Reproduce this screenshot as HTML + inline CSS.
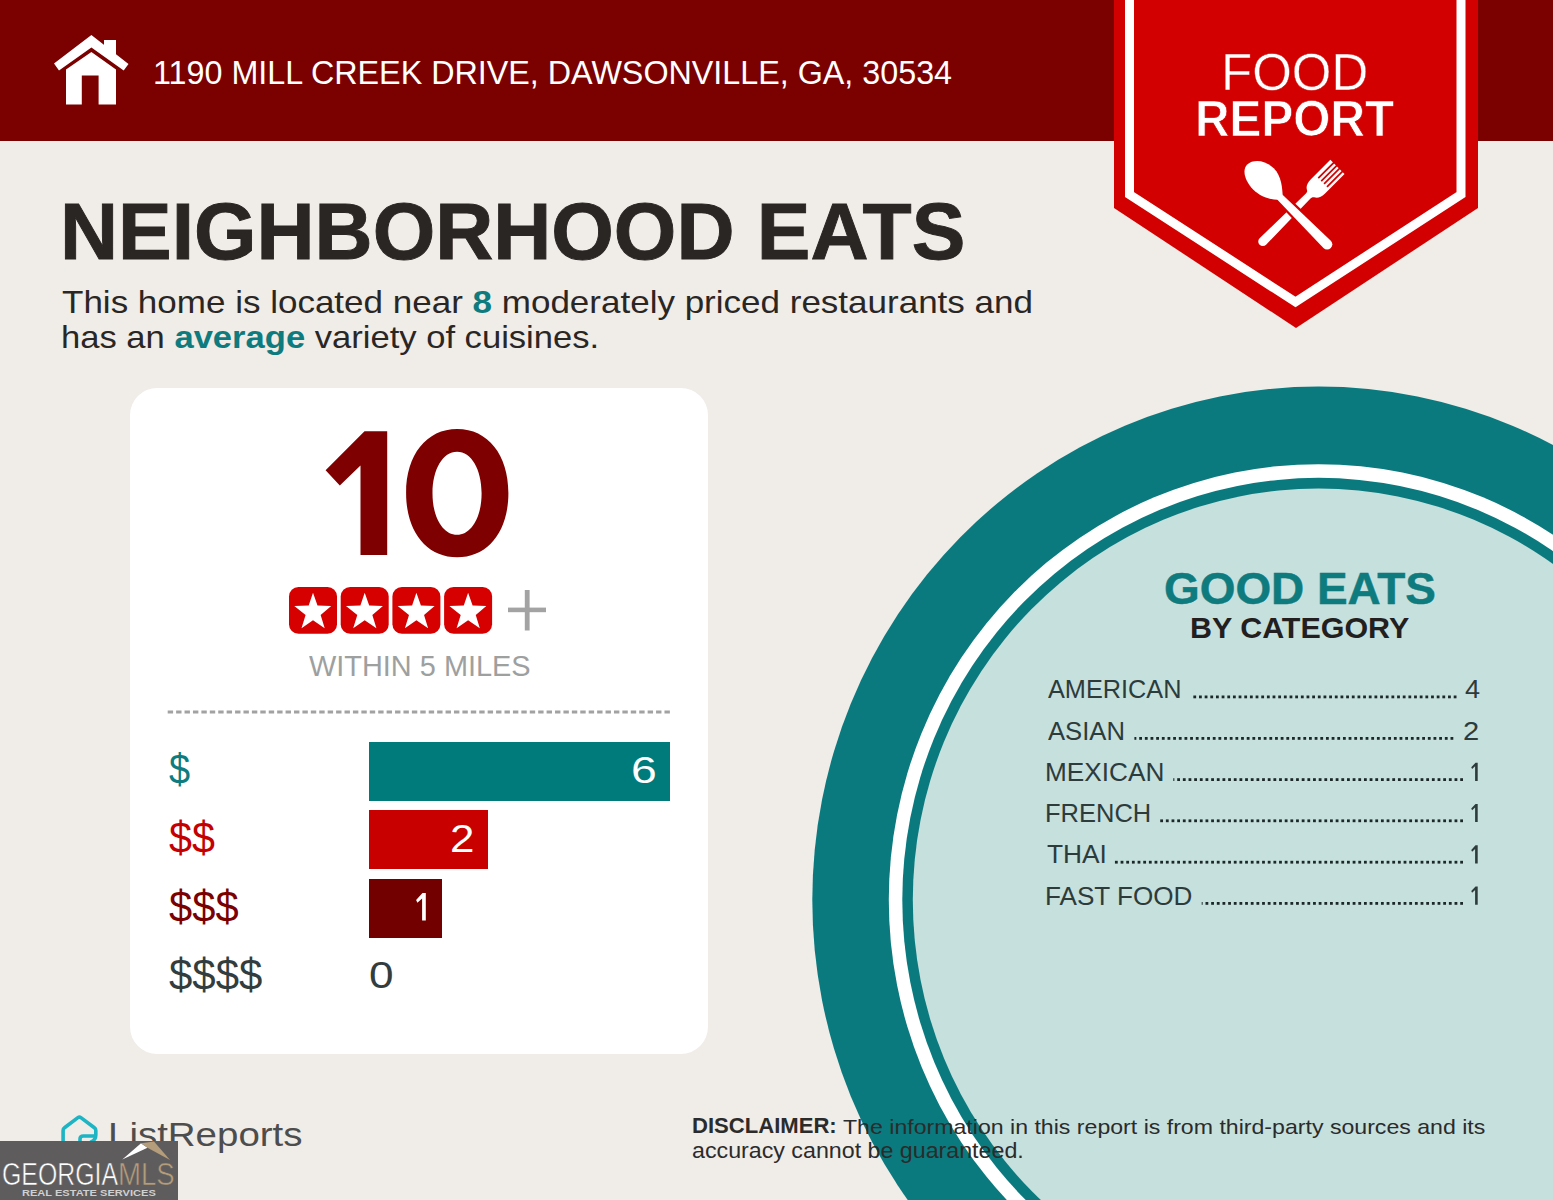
<!DOCTYPE html>
<html>
<head>
<meta charset="utf-8">
<style>
*{margin:0;padding:0;box-sizing:border-box;}
html,body{width:1553px;height:1200px;overflow:hidden;}
body{position:relative;background:#f0ece8;font-family:"Liberation Sans",sans-serif;}
.a{position:absolute;white-space:nowrap;line-height:1;}
.t{display:inline-block;transform-origin:0 0;}
.t b{color:#0e7b7e;}
.box{position:absolute;}
.dots{position:absolute;height:2.6px;background-image:linear-gradient(to right,#1f2b2b 0,#1f2b2b 2.6px,transparent 2.6px);background-size:5.67px 2.6px;background-repeat:repeat-x;}
</style>
</head>
<body>
<!-- header -->
<div class="box" style="left:0;top:0;width:1553px;height:141px;background:#7b0000;"></div>

<!-- house icon -->
<svg class="box" style="left:0;top:0" width="200" height="130" viewBox="0 0 200 130">
  <path fill="#fff" d="M104 40 H116 V58 L104 49 Z"/>
  <path fill="#fff" d="M91.4 35 L128.5 64 L123.7 70.6 L91.4 47.4 L59 70.6 L54 63.5 Z"/>
  <path fill="#fff" d="M91.4 52 L116 69.5 V104.4 H98.6 V75.4 H81.8 V104.4 H66 V69.5 Z"/>
</svg>
<div class="a" style="left:152.9px;top:55.6px;font-size:33.0px;color:#fff;"><span class="t" style="transform:scaleX(0.9783)">1190 MILL CREEK DRIVE, DAWSONVILLE, GA, 30534</span></div>

<!-- ribbon -->
<svg class="box" style="left:0;top:0" width="1553" height="340" viewBox="0 0 1553 340">
  <polygon fill="#d20000" points="1114,0 1478,0 1478,208 1296,328 1114,208"/>
  <polyline fill="none" stroke="#fff" stroke-width="9" stroke-linejoin="miter" points="1129.5,-5 1129.5,194.5 1295.5,302 1461,194.5 1461,-5"/>
  <g transform="translate(1235,150)">
    <!-- fork -->
    <g transform="translate(59.65,59.65) rotate(45)" fill="#fff">
      <path d="M-10,-60.5 L10,-60.5 L10,-33 C10,-27 8,-24 5,-22.5 C4,-22 3.4,-21 3.4,-19 L4.6,45 A4.6,4.6 0 0 1 -4.6,45 L-3.4,-19 C-3.4,-21 -4,-22 -5,-22.5 C-8,-24 -10,-27 -10,-33 Z"/>
      <rect x="-6.4" y="-62" width="1.7" height="23" fill="#d20000"/>
      <rect x="-2.3" y="-62" width="1.7" height="23" fill="#d20000"/>
      <rect x="1.8" y="-62" width="1.7" height="23" fill="#d20000"/>
      <rect x="5.9" y="-62" width="1.7" height="23" fill="#d20000"/>
    </g>
    <!-- spoon -->
    <g transform="translate(58.55,60.75) rotate(-45)" fill="#fff">
      <path d="M-3.5,-22 L-5.2,47.5 A5.2,5.2 0 0 0 5.2,47.5 L3.5,-22 Z" stroke="#d20000" stroke-width="4.5" stroke-linejoin="round"/>
      <path d="M-3.5,-22 L-5.2,47.5 A5.2,5.2 0 0 0 5.2,47.5 L3.5,-22 Z"/>
      <path d="M3.5,-19 C8,-24 16,-33 16,-44 C16,-56 8,-65 0,-65.5 C-8,-65.5 -13.5,-55 -13.5,-44 C-13.5,-32 -8,-24 -3.5,-19 Z"/>
    </g>
  </g>
</svg>
<div class="a" style="left:1221.1px;top:46.5px;font-size:51.57px;color:#fff;-webkit-text-stroke:0.4px #d20000;"><span class="t" style="transform:scaleX(0.9885)">FOOD</span></div>
<div class="a" style="left:1195.2px;top:93.9px;font-size:50.71px;color:#fff;font-weight:bold;-webkit-text-stroke:0.7px #d20000;"><span class="t" style="transform:scaleX(0.9425)">REPORT</span></div>

<div class="a" style="left:59.9px;top:192.1px;font-size:79.57px;color:#2a2624;font-weight:bold;-webkit-text-stroke:0.9px #2a2624;"><span class="t" style="transform:scaleX(1.0105)">NEIGHBORHOOD EATS</span></div>
<div class="a" style="left:62.2px;top:287.1px;font-size:31.23px;color:#2a2624;"><span class="t" style="transform:scaleX(1.1213)">This home is located near <b>8</b> moderately priced restaurants and</span></div>
<div class="a" style="left:60.5px;top:321.8px;font-size:31.23px;color:#2a2624;"><span class="t" style="transform:scaleX(1.1075)">has an <b>average</b> variety of cuisines.</span></div>

<!-- card -->
<div class="box" style="left:129.7px;top:387.6px;width:578.3px;height:666.4px;background:#fff;border-radius:27px;"></div>
<svg class="box" style="left:300px;top:420px" width="230" height="150" viewBox="300 420 230 150">
  <path fill="#7f0000" d="M364.5,431.2 L387.2,431.2 L387.2,554.9 L360.5,554.9 L360.5,465.5 L339.8,485.6 L325.6,470.2 Z"/>
  <path fill="#7f0000" fill-rule="evenodd" d="M457.2,429.0 C487.9,429.0 508.4,454.7 508.4,493.1 C508.4,531.6 487.9,557.3 457.2,557.3 C426.6,557.3 406.1,531.6 406.1,493.1 C406.1,454.7 426.6,429.0 457.2,429.0 Z M457.1,451.7 C442.8,451.7 432.5,469.2 432.5,493.2 C432.5,517.3 442.8,534.8 457.1,534.8 C471.3,534.8 481.6,517.3 481.6,493.2 C481.6,469.2 471.3,451.7 457.1,451.7 Z"/>
</svg>
<svg class="box" style="left:280px;top:580px" width="280" height="60" viewBox="280 580 280 60">
  <defs>
    <g id="sb">
      <rect x="0" y="0" width="48" height="46.8" rx="9.5" fill="#d60000"/>
      <polygon fill="#fff" points="24,5.8 28.5,18.6 42.2,19.05 31.65,28 35.7,41.3 24,33.2 12.5,41.3 16.6,28 5.3,19.05 19.7,18.6"/>
    </g>
  </defs>
  <use href="#sb" x="289" y="587"/>
  <use href="#sb" x="340.7" y="587"/>
  <use href="#sb" x="392.4" y="587"/>
  <use href="#sb" x="444.1" y="587"/>
  <rect x="508" y="607.6" width="38" height="4.6" fill="#a3a3a3"/>
  <rect x="524.8" y="590" width="4.8" height="40.5" fill="#a3a3a3"/>
</svg>
<div class="a" style="left:308.5px;top:650.8px;font-size:29.43px;color:#9ea0a0;"><span class="t" style="transform:scaleX(0.9824)">WITHIN 5 MILES</span></div>
<svg class="box" style="left:160px;top:700px" width="520" height="25" viewBox="160 700 520 25"><line x1="167.7" y1="712" x2="670.5" y2="712" stroke="#a2a2a2" stroke-width="2.8" stroke-dasharray="5.4 3.02"/></svg>

<!-- bars -->
<div class="box" style="left:369.1px;top:741.7px;width:300.7px;height:59px;background:#007b7c;"></div>
<div class="box" style="left:369.1px;top:810.4px;width:119.2px;height:58.9px;background:#c80000;"></div>
<div class="box" style="left:369.1px;top:879.3px;width:73.2px;height:58.5px;background:#720000;"></div>
<div class="a" style="left:631.1px;top:751.7px;font-size:37.14px;color:#fff;"><span class="t" style="transform:scaleX(1.2467)">6</span></div>
<div class="a" style="left:449.8px;top:820.0px;font-size:38.57px;color:#fff;"><span class="t" style="transform:scaleX(1.1385)">2</span></div>
<svg class="box" style="left:400px;top:880px" width="40" height="50" viewBox="400 880 40 50"><path fill="#fff" d="M422.50,893.10 L425.80,893.10 L425.80,920.40 L422.10,920.40 L422.10,898.51 L417.39,902.63 L416.11,900.01 Z"/></svg>
<div class="a" style="left:369.0px;top:956.9px;font-size:37.04px;color:#333d3d;"><span class="t" style="transform:scaleX(1.1923)">0</span></div>
<div class="a" style="left:168.7px;top:748.2px;font-size:42.84px;color:#0e7b7e;"><span class="t" style="transform:scaleX(0.8853)">$</span></div>
<div class="a" style="left:168.7px;top:817.0px;font-size:43.58px;color:#c40000;"><span class="t" style="transform:scaleX(0.9476)">$$</span></div>
<div class="a" style="left:168.7px;top:885.4px;font-size:43.83px;color:#7b0000;"><span class="t" style="transform:scaleX(0.9516)">$$$</span></div>
<div class="a" style="left:168.7px;top:954.4px;font-size:43.58px;color:#333d3d;"><span class="t" style="transform:scaleX(0.9627)">$$$$</span></div>

<!-- circle -->
<svg class="box" style="left:0;top:0" width="1553" height="1200" viewBox="0 0 1553 1200">
  <g transform="translate(1318.6,900) scale(1,1.014)">
  <circle cx="0" cy="0" r="506.3" fill="#0a7a7e"/>
  <circle cx="0" cy="0" r="429.8" fill="#fff"/>
  <circle cx="0" cy="0" r="416.3" fill="#0a7a7e"/>
  <circle cx="0" cy="0" r="405.8" fill="#c6e0de"/>
  </g>
</svg>
<div class="a" style="left:1164.4px;top:565.7px;font-size:45.29px;color:#0e7b7e;font-weight:bold;-webkit-text-stroke:0.5px #0e7b7e;"><span class="t" style="transform:scaleX(1.0135)">GOOD EATS</span></div>
<div class="a" style="left:1190.4px;top:612.8px;font-size:29.43px;color:#231f20;font-weight:bold;"><span class="t" style="transform:scaleX(1.0342)">BY CATEGORY</span></div>
<div class="a" style="left:1047.6px;top:676.1px;font-size:26.14px;color:#2d3b3b;"><span class="t" style="transform:scaleX(0.9681)">AMERICAN</span></div>
<div class="a" style="left:1047.6px;top:717.6px;font-size:26.14px;color:#2d3b3b;"><span class="t" style="transform:scaleX(0.9812)">ASIAN</span></div>
<div class="a" style="left:1045.1px;top:759.1px;font-size:26.14px;color:#2d3b3b;"><span class="t" style="transform:scaleX(1.0032)">MEXICAN</span></div>
<div class="a" style="left:1045.2px;top:800.2px;font-size:26.14px;color:#2d3b3b;"><span class="t" style="transform:scaleX(0.9758)">FRENCH</span></div>
<div class="a" style="left:1046.7px;top:841.4px;font-size:26.52px;color:#2d3b3b;"><span class="t" style="transform:scaleX(0.9921)">THAI</span></div>
<div class="a" style="left:1045.1px;top:882.8px;font-size:26.14px;color:#2d3b3b;"><span class="t" style="transform:scaleX(0.9986)">FAST FOOD</span></div>
<div class="a" style="left:1464.5px;top:675.8px;font-size:26.52px;color:#2d3b3b;"><span class="t" style="transform:scaleX(1.0203)">4</span></div>
<div class="a" style="left:1463.1px;top:717.6px;font-size:26.14px;color:#2d3b3b;"><span class="t" style="transform:scaleX(1.1143)">2</span></div>
<svg class="box" style="left:1100px;top:680px" width="400" height="240" viewBox="1100 680 400 240"><g fill="#1c2828"><rect x="1453.70" y="695.50" width="2.80" height="2.8"/><rect x="1448.04" y="695.50" width="2.80" height="2.8"/><rect x="1442.38" y="695.50" width="2.80" height="2.8"/><rect x="1436.72" y="695.50" width="2.80" height="2.8"/><rect x="1431.06" y="695.50" width="2.80" height="2.8"/><rect x="1425.40" y="695.50" width="2.80" height="2.8"/><rect x="1419.74" y="695.50" width="2.80" height="2.8"/><rect x="1414.08" y="695.50" width="2.80" height="2.8"/><rect x="1408.42" y="695.50" width="2.80" height="2.8"/><rect x="1402.76" y="695.50" width="2.80" height="2.8"/><rect x="1397.10" y="695.50" width="2.80" height="2.8"/><rect x="1391.44" y="695.50" width="2.80" height="2.8"/><rect x="1385.78" y="695.50" width="2.80" height="2.8"/><rect x="1380.12" y="695.50" width="2.80" height="2.8"/><rect x="1374.46" y="695.50" width="2.80" height="2.8"/><rect x="1368.80" y="695.50" width="2.80" height="2.8"/><rect x="1363.14" y="695.50" width="2.80" height="2.8"/><rect x="1357.48" y="695.50" width="2.80" height="2.8"/><rect x="1351.82" y="695.50" width="2.80" height="2.8"/><rect x="1346.16" y="695.50" width="2.80" height="2.8"/><rect x="1340.50" y="695.50" width="2.80" height="2.8"/><rect x="1334.84" y="695.50" width="2.80" height="2.8"/><rect x="1329.18" y="695.50" width="2.80" height="2.8"/><rect x="1323.52" y="695.50" width="2.80" height="2.8"/><rect x="1317.86" y="695.50" width="2.80" height="2.8"/><rect x="1312.20" y="695.50" width="2.80" height="2.8"/><rect x="1306.54" y="695.50" width="2.80" height="2.8"/><rect x="1300.88" y="695.50" width="2.80" height="2.8"/><rect x="1295.22" y="695.50" width="2.80" height="2.8"/><rect x="1289.56" y="695.50" width="2.80" height="2.8"/><rect x="1283.90" y="695.50" width="2.80" height="2.8"/><rect x="1278.24" y="695.50" width="2.80" height="2.8"/><rect x="1272.58" y="695.50" width="2.80" height="2.8"/><rect x="1266.92" y="695.50" width="2.80" height="2.8"/><rect x="1261.26" y="695.50" width="2.80" height="2.8"/><rect x="1255.60" y="695.50" width="2.80" height="2.8"/><rect x="1249.94" y="695.50" width="2.80" height="2.8"/><rect x="1244.28" y="695.50" width="2.80" height="2.8"/><rect x="1238.62" y="695.50" width="2.80" height="2.8"/><rect x="1232.96" y="695.50" width="2.80" height="2.8"/><rect x="1227.30" y="695.50" width="2.80" height="2.8"/><rect x="1221.64" y="695.50" width="2.80" height="2.8"/><rect x="1215.98" y="695.50" width="2.80" height="2.8"/><rect x="1210.32" y="695.50" width="2.80" height="2.8"/><rect x="1204.66" y="695.50" width="2.80" height="2.8"/><rect x="1199.00" y="695.50" width="2.80" height="2.8"/><rect x="1193.34" y="695.50" width="2.80" height="2.8"/><rect x="1450.50" y="737.00" width="2.80" height="2.8"/><rect x="1444.84" y="737.00" width="2.80" height="2.8"/><rect x="1439.18" y="737.00" width="2.80" height="2.8"/><rect x="1433.52" y="737.00" width="2.80" height="2.8"/><rect x="1427.86" y="737.00" width="2.80" height="2.8"/><rect x="1422.20" y="737.00" width="2.80" height="2.8"/><rect x="1416.54" y="737.00" width="2.80" height="2.8"/><rect x="1410.88" y="737.00" width="2.80" height="2.8"/><rect x="1405.22" y="737.00" width="2.80" height="2.8"/><rect x="1399.56" y="737.00" width="2.80" height="2.8"/><rect x="1393.90" y="737.00" width="2.80" height="2.8"/><rect x="1388.24" y="737.00" width="2.80" height="2.8"/><rect x="1382.58" y="737.00" width="2.80" height="2.8"/><rect x="1376.92" y="737.00" width="2.80" height="2.8"/><rect x="1371.26" y="737.00" width="2.80" height="2.8"/><rect x="1365.60" y="737.00" width="2.80" height="2.8"/><rect x="1359.94" y="737.00" width="2.80" height="2.8"/><rect x="1354.28" y="737.00" width="2.80" height="2.8"/><rect x="1348.62" y="737.00" width="2.80" height="2.8"/><rect x="1342.96" y="737.00" width="2.80" height="2.8"/><rect x="1337.30" y="737.00" width="2.80" height="2.8"/><rect x="1331.64" y="737.00" width="2.80" height="2.8"/><rect x="1325.98" y="737.00" width="2.80" height="2.8"/><rect x="1320.32" y="737.00" width="2.80" height="2.8"/><rect x="1314.66" y="737.00" width="2.80" height="2.8"/><rect x="1309.00" y="737.00" width="2.80" height="2.8"/><rect x="1303.34" y="737.00" width="2.80" height="2.8"/><rect x="1297.68" y="737.00" width="2.80" height="2.8"/><rect x="1292.02" y="737.00" width="2.80" height="2.8"/><rect x="1286.36" y="737.00" width="2.80" height="2.8"/><rect x="1280.70" y="737.00" width="2.80" height="2.8"/><rect x="1275.04" y="737.00" width="2.80" height="2.8"/><rect x="1269.38" y="737.00" width="2.80" height="2.8"/><rect x="1263.72" y="737.00" width="2.80" height="2.8"/><rect x="1258.06" y="737.00" width="2.80" height="2.8"/><rect x="1252.40" y="737.00" width="2.80" height="2.8"/><rect x="1246.74" y="737.00" width="2.80" height="2.8"/><rect x="1241.08" y="737.00" width="2.80" height="2.8"/><rect x="1235.42" y="737.00" width="2.80" height="2.8"/><rect x="1229.76" y="737.00" width="2.80" height="2.8"/><rect x="1224.10" y="737.00" width="2.80" height="2.8"/><rect x="1218.44" y="737.00" width="2.80" height="2.8"/><rect x="1212.78" y="737.00" width="2.80" height="2.8"/><rect x="1207.12" y="737.00" width="2.80" height="2.8"/><rect x="1201.46" y="737.00" width="2.80" height="2.8"/><rect x="1195.80" y="737.00" width="2.80" height="2.8"/><rect x="1190.14" y="737.00" width="2.80" height="2.8"/><rect x="1184.48" y="737.00" width="2.80" height="2.8"/><rect x="1178.82" y="737.00" width="2.80" height="2.8"/><rect x="1173.16" y="737.00" width="2.80" height="2.8"/><rect x="1167.50" y="737.00" width="2.80" height="2.8"/><rect x="1161.84" y="737.00" width="2.80" height="2.8"/><rect x="1156.18" y="737.00" width="2.80" height="2.8"/><rect x="1150.52" y="737.00" width="2.80" height="2.8"/><rect x="1144.86" y="737.00" width="2.80" height="2.8"/><rect x="1139.20" y="737.00" width="2.80" height="2.8"/><rect x="1134.40" y="737.00" width="1.94" height="2.8"/><rect x="1460.20" y="778.20" width="2.80" height="2.8"/><rect x="1454.54" y="778.20" width="2.80" height="2.8"/><rect x="1448.88" y="778.20" width="2.80" height="2.8"/><rect x="1443.22" y="778.20" width="2.80" height="2.8"/><rect x="1437.56" y="778.20" width="2.80" height="2.8"/><rect x="1431.90" y="778.20" width="2.80" height="2.8"/><rect x="1426.24" y="778.20" width="2.80" height="2.8"/><rect x="1420.58" y="778.20" width="2.80" height="2.8"/><rect x="1414.92" y="778.20" width="2.80" height="2.8"/><rect x="1409.26" y="778.20" width="2.80" height="2.8"/><rect x="1403.60" y="778.20" width="2.80" height="2.8"/><rect x="1397.94" y="778.20" width="2.80" height="2.8"/><rect x="1392.28" y="778.20" width="2.80" height="2.8"/><rect x="1386.62" y="778.20" width="2.80" height="2.8"/><rect x="1380.96" y="778.20" width="2.80" height="2.8"/><rect x="1375.30" y="778.20" width="2.80" height="2.8"/><rect x="1369.64" y="778.20" width="2.80" height="2.8"/><rect x="1363.98" y="778.20" width="2.80" height="2.8"/><rect x="1358.32" y="778.20" width="2.80" height="2.8"/><rect x="1352.66" y="778.20" width="2.80" height="2.8"/><rect x="1347.00" y="778.20" width="2.80" height="2.8"/><rect x="1341.34" y="778.20" width="2.80" height="2.8"/><rect x="1335.68" y="778.20" width="2.80" height="2.8"/><rect x="1330.02" y="778.20" width="2.80" height="2.8"/><rect x="1324.36" y="778.20" width="2.80" height="2.8"/><rect x="1318.70" y="778.20" width="2.80" height="2.8"/><rect x="1313.04" y="778.20" width="2.80" height="2.8"/><rect x="1307.38" y="778.20" width="2.80" height="2.8"/><rect x="1301.72" y="778.20" width="2.80" height="2.8"/><rect x="1296.06" y="778.20" width="2.80" height="2.8"/><rect x="1290.40" y="778.20" width="2.80" height="2.8"/><rect x="1284.74" y="778.20" width="2.80" height="2.8"/><rect x="1279.08" y="778.20" width="2.80" height="2.8"/><rect x="1273.42" y="778.20" width="2.80" height="2.8"/><rect x="1267.76" y="778.20" width="2.80" height="2.8"/><rect x="1262.10" y="778.20" width="2.80" height="2.8"/><rect x="1256.44" y="778.20" width="2.80" height="2.8"/><rect x="1250.78" y="778.20" width="2.80" height="2.8"/><rect x="1245.12" y="778.20" width="2.80" height="2.8"/><rect x="1239.46" y="778.20" width="2.80" height="2.8"/><rect x="1233.80" y="778.20" width="2.80" height="2.8"/><rect x="1228.14" y="778.20" width="2.80" height="2.8"/><rect x="1222.48" y="778.20" width="2.80" height="2.8"/><rect x="1216.82" y="778.20" width="2.80" height="2.8"/><rect x="1211.16" y="778.20" width="2.80" height="2.8"/><rect x="1205.50" y="778.20" width="2.80" height="2.8"/><rect x="1199.84" y="778.20" width="2.80" height="2.8"/><rect x="1194.18" y="778.20" width="2.80" height="2.8"/><rect x="1188.52" y="778.20" width="2.80" height="2.8"/><rect x="1182.86" y="778.20" width="2.80" height="2.8"/><rect x="1177.20" y="778.20" width="2.80" height="2.8"/><rect x="1173.30" y="778.20" width="1.04" height="2.8"/><rect x="1460.20" y="819.40" width="2.80" height="2.8"/><rect x="1454.54" y="819.40" width="2.80" height="2.8"/><rect x="1448.88" y="819.40" width="2.80" height="2.8"/><rect x="1443.22" y="819.40" width="2.80" height="2.8"/><rect x="1437.56" y="819.40" width="2.80" height="2.8"/><rect x="1431.90" y="819.40" width="2.80" height="2.8"/><rect x="1426.24" y="819.40" width="2.80" height="2.8"/><rect x="1420.58" y="819.40" width="2.80" height="2.8"/><rect x="1414.92" y="819.40" width="2.80" height="2.8"/><rect x="1409.26" y="819.40" width="2.80" height="2.8"/><rect x="1403.60" y="819.40" width="2.80" height="2.8"/><rect x="1397.94" y="819.40" width="2.80" height="2.8"/><rect x="1392.28" y="819.40" width="2.80" height="2.8"/><rect x="1386.62" y="819.40" width="2.80" height="2.8"/><rect x="1380.96" y="819.40" width="2.80" height="2.8"/><rect x="1375.30" y="819.40" width="2.80" height="2.8"/><rect x="1369.64" y="819.40" width="2.80" height="2.8"/><rect x="1363.98" y="819.40" width="2.80" height="2.8"/><rect x="1358.32" y="819.40" width="2.80" height="2.8"/><rect x="1352.66" y="819.40" width="2.80" height="2.8"/><rect x="1347.00" y="819.40" width="2.80" height="2.8"/><rect x="1341.34" y="819.40" width="2.80" height="2.8"/><rect x="1335.68" y="819.40" width="2.80" height="2.8"/><rect x="1330.02" y="819.40" width="2.80" height="2.8"/><rect x="1324.36" y="819.40" width="2.80" height="2.8"/><rect x="1318.70" y="819.40" width="2.80" height="2.8"/><rect x="1313.04" y="819.40" width="2.80" height="2.8"/><rect x="1307.38" y="819.40" width="2.80" height="2.8"/><rect x="1301.72" y="819.40" width="2.80" height="2.8"/><rect x="1296.06" y="819.40" width="2.80" height="2.8"/><rect x="1290.40" y="819.40" width="2.80" height="2.8"/><rect x="1284.74" y="819.40" width="2.80" height="2.8"/><rect x="1279.08" y="819.40" width="2.80" height="2.8"/><rect x="1273.42" y="819.40" width="2.80" height="2.8"/><rect x="1267.76" y="819.40" width="2.80" height="2.8"/><rect x="1262.10" y="819.40" width="2.80" height="2.8"/><rect x="1256.44" y="819.40" width="2.80" height="2.8"/><rect x="1250.78" y="819.40" width="2.80" height="2.8"/><rect x="1245.12" y="819.40" width="2.80" height="2.8"/><rect x="1239.46" y="819.40" width="2.80" height="2.8"/><rect x="1233.80" y="819.40" width="2.80" height="2.8"/><rect x="1228.14" y="819.40" width="2.80" height="2.8"/><rect x="1222.48" y="819.40" width="2.80" height="2.8"/><rect x="1216.82" y="819.40" width="2.80" height="2.8"/><rect x="1211.16" y="819.40" width="2.80" height="2.8"/><rect x="1205.50" y="819.40" width="2.80" height="2.8"/><rect x="1199.84" y="819.40" width="2.80" height="2.8"/><rect x="1194.18" y="819.40" width="2.80" height="2.8"/><rect x="1188.52" y="819.40" width="2.80" height="2.8"/><rect x="1182.86" y="819.40" width="2.80" height="2.8"/><rect x="1177.20" y="819.40" width="2.80" height="2.8"/><rect x="1171.54" y="819.40" width="2.80" height="2.8"/><rect x="1165.88" y="819.40" width="2.80" height="2.8"/><rect x="1160.22" y="819.40" width="2.80" height="2.8"/><rect x="1460.20" y="860.80" width="2.80" height="2.8"/><rect x="1454.54" y="860.80" width="2.80" height="2.8"/><rect x="1448.88" y="860.80" width="2.80" height="2.8"/><rect x="1443.22" y="860.80" width="2.80" height="2.8"/><rect x="1437.56" y="860.80" width="2.80" height="2.8"/><rect x="1431.90" y="860.80" width="2.80" height="2.8"/><rect x="1426.24" y="860.80" width="2.80" height="2.8"/><rect x="1420.58" y="860.80" width="2.80" height="2.8"/><rect x="1414.92" y="860.80" width="2.80" height="2.8"/><rect x="1409.26" y="860.80" width="2.80" height="2.8"/><rect x="1403.60" y="860.80" width="2.80" height="2.8"/><rect x="1397.94" y="860.80" width="2.80" height="2.8"/><rect x="1392.28" y="860.80" width="2.80" height="2.8"/><rect x="1386.62" y="860.80" width="2.80" height="2.8"/><rect x="1380.96" y="860.80" width="2.80" height="2.8"/><rect x="1375.30" y="860.80" width="2.80" height="2.8"/><rect x="1369.64" y="860.80" width="2.80" height="2.8"/><rect x="1363.98" y="860.80" width="2.80" height="2.8"/><rect x="1358.32" y="860.80" width="2.80" height="2.8"/><rect x="1352.66" y="860.80" width="2.80" height="2.8"/><rect x="1347.00" y="860.80" width="2.80" height="2.8"/><rect x="1341.34" y="860.80" width="2.80" height="2.8"/><rect x="1335.68" y="860.80" width="2.80" height="2.8"/><rect x="1330.02" y="860.80" width="2.80" height="2.8"/><rect x="1324.36" y="860.80" width="2.80" height="2.8"/><rect x="1318.70" y="860.80" width="2.80" height="2.8"/><rect x="1313.04" y="860.80" width="2.80" height="2.8"/><rect x="1307.38" y="860.80" width="2.80" height="2.8"/><rect x="1301.72" y="860.80" width="2.80" height="2.8"/><rect x="1296.06" y="860.80" width="2.80" height="2.8"/><rect x="1290.40" y="860.80" width="2.80" height="2.8"/><rect x="1284.74" y="860.80" width="2.80" height="2.8"/><rect x="1279.08" y="860.80" width="2.80" height="2.8"/><rect x="1273.42" y="860.80" width="2.80" height="2.8"/><rect x="1267.76" y="860.80" width="2.80" height="2.8"/><rect x="1262.10" y="860.80" width="2.80" height="2.8"/><rect x="1256.44" y="860.80" width="2.80" height="2.8"/><rect x="1250.78" y="860.80" width="2.80" height="2.8"/><rect x="1245.12" y="860.80" width="2.80" height="2.8"/><rect x="1239.46" y="860.80" width="2.80" height="2.8"/><rect x="1233.80" y="860.80" width="2.80" height="2.8"/><rect x="1228.14" y="860.80" width="2.80" height="2.8"/><rect x="1222.48" y="860.80" width="2.80" height="2.8"/><rect x="1216.82" y="860.80" width="2.80" height="2.8"/><rect x="1211.16" y="860.80" width="2.80" height="2.8"/><rect x="1205.50" y="860.80" width="2.80" height="2.8"/><rect x="1199.84" y="860.80" width="2.80" height="2.8"/><rect x="1194.18" y="860.80" width="2.80" height="2.8"/><rect x="1188.52" y="860.80" width="2.80" height="2.8"/><rect x="1182.86" y="860.80" width="2.80" height="2.8"/><rect x="1177.20" y="860.80" width="2.80" height="2.8"/><rect x="1171.54" y="860.80" width="2.80" height="2.8"/><rect x="1165.88" y="860.80" width="2.80" height="2.8"/><rect x="1160.22" y="860.80" width="2.80" height="2.8"/><rect x="1154.56" y="860.80" width="2.80" height="2.8"/><rect x="1148.90" y="860.80" width="2.80" height="2.8"/><rect x="1143.24" y="860.80" width="2.80" height="2.8"/><rect x="1137.58" y="860.80" width="2.80" height="2.8"/><rect x="1131.92" y="860.80" width="2.80" height="2.8"/><rect x="1126.26" y="860.80" width="2.80" height="2.8"/><rect x="1120.60" y="860.80" width="2.80" height="2.8"/><rect x="1114.94" y="860.80" width="2.80" height="2.8"/><rect x="1460.20" y="902.00" width="2.80" height="2.8"/><rect x="1454.54" y="902.00" width="2.80" height="2.8"/><rect x="1448.88" y="902.00" width="2.80" height="2.8"/><rect x="1443.22" y="902.00" width="2.80" height="2.8"/><rect x="1437.56" y="902.00" width="2.80" height="2.8"/><rect x="1431.90" y="902.00" width="2.80" height="2.8"/><rect x="1426.24" y="902.00" width="2.80" height="2.8"/><rect x="1420.58" y="902.00" width="2.80" height="2.8"/><rect x="1414.92" y="902.00" width="2.80" height="2.8"/><rect x="1409.26" y="902.00" width="2.80" height="2.8"/><rect x="1403.60" y="902.00" width="2.80" height="2.8"/><rect x="1397.94" y="902.00" width="2.80" height="2.8"/><rect x="1392.28" y="902.00" width="2.80" height="2.8"/><rect x="1386.62" y="902.00" width="2.80" height="2.8"/><rect x="1380.96" y="902.00" width="2.80" height="2.8"/><rect x="1375.30" y="902.00" width="2.80" height="2.8"/><rect x="1369.64" y="902.00" width="2.80" height="2.8"/><rect x="1363.98" y="902.00" width="2.80" height="2.8"/><rect x="1358.32" y="902.00" width="2.80" height="2.8"/><rect x="1352.66" y="902.00" width="2.80" height="2.8"/><rect x="1347.00" y="902.00" width="2.80" height="2.8"/><rect x="1341.34" y="902.00" width="2.80" height="2.8"/><rect x="1335.68" y="902.00" width="2.80" height="2.8"/><rect x="1330.02" y="902.00" width="2.80" height="2.8"/><rect x="1324.36" y="902.00" width="2.80" height="2.8"/><rect x="1318.70" y="902.00" width="2.80" height="2.8"/><rect x="1313.04" y="902.00" width="2.80" height="2.8"/><rect x="1307.38" y="902.00" width="2.80" height="2.8"/><rect x="1301.72" y="902.00" width="2.80" height="2.8"/><rect x="1296.06" y="902.00" width="2.80" height="2.8"/><rect x="1290.40" y="902.00" width="2.80" height="2.8"/><rect x="1284.74" y="902.00" width="2.80" height="2.8"/><rect x="1279.08" y="902.00" width="2.80" height="2.8"/><rect x="1273.42" y="902.00" width="2.80" height="2.8"/><rect x="1267.76" y="902.00" width="2.80" height="2.8"/><rect x="1262.10" y="902.00" width="2.80" height="2.8"/><rect x="1256.44" y="902.00" width="2.80" height="2.8"/><rect x="1250.78" y="902.00" width="2.80" height="2.8"/><rect x="1245.12" y="902.00" width="2.80" height="2.8"/><rect x="1239.46" y="902.00" width="2.80" height="2.8"/><rect x="1233.80" y="902.00" width="2.80" height="2.8"/><rect x="1228.14" y="902.00" width="2.80" height="2.8"/><rect x="1222.48" y="902.00" width="2.80" height="2.8"/><rect x="1216.82" y="902.00" width="2.80" height="2.8"/><rect x="1211.16" y="902.00" width="2.80" height="2.8"/><rect x="1205.50" y="902.00" width="2.80" height="2.8"/><rect x="1201.70" y="902.00" width="0.94" height="2.8"/></g><path fill="#2d3b3b" d="M1475.50,762.70 L1477.70,762.70 L1477.70,780.90 L1475.10,780.90 L1475.10,766.30 L1472.09,769.05 L1471.24,767.30 Z"/><path fill="#2d3b3b" d="M1475.50,803.90 L1477.70,803.90 L1477.70,822.10 L1475.10,822.10 L1475.10,807.50 L1472.09,810.25 L1471.24,808.50 Z"/><path fill="#2d3b3b" d="M1475.50,845.30 L1477.70,845.30 L1477.70,863.50 L1475.10,863.50 L1475.10,848.90 L1472.09,851.65 L1471.24,849.90 Z"/><path fill="#2d3b3b" d="M1475.50,886.50 L1477.70,886.50 L1477.70,904.70 L1475.10,904.70 L1475.10,890.10 L1472.09,892.85 L1471.24,891.10 Z"/></svg>

<!-- footer -->
<div class="a" style="left:691.5px;top:1116.0px;font-size:21.29px;color:#2b2b2b;"><span class="t" style="transform:scaleX(1.0374)"><b style="color:#2b2b2b">DISCLAIMER:</b></span></div>
<div class="a" style="left:843.1px;top:1116.8px;font-size:20.14px;color:#2b2b2b;"><span class="t" style="transform:scaleX(1.1486)">The information in this report is from third-party sources and its</span></div>
<div class="a" style="left:692.1px;top:1140.0px;font-size:21.23px;color:#2b2b2b;"><span class="t" style="transform:scaleX(1.0943)">accuracy cannot be guaranteed.</span></div>
<svg class="box" style="left:50px;top:1105px" width="60" height="50" viewBox="50 1105 60 50">
  <g fill="none" stroke="#1db4c4" stroke-width="3.6" stroke-linejoin="round" stroke-linecap="round">
  <path d="M63.1,1143 V1130.5 Q63.1,1128.8 64.5,1127.8 L77.9,1117.6 Q79.4,1116.5 80.9,1117.6 L94.4,1127.8 Q95.8,1128.8 95.8,1130.5 V1135 Q95.8,1140 91,1142"/>
  <path d="M80,1143 V1139 Q80,1136 83.5,1136 H95"/>
  </g>
</svg>
<div class="a" style="left:108.0px;top:1118.2px;font-size:33.29px;color:#4d4d4d;"><span class="t" style="transform:scaleX(1.1554)">ListReports</span></div>
<div class="box" style="left:0;top:1141px;width:178px;height:59px;background:#5e5c5d;"></div>
<svg class="box" style="left:0;top:1135px" width="180" height="65" viewBox="0 1135 180 65">
  <polygon fill="#fff" points="122.3,1159.5 141,1143.2 147.5,1147.8"/>
  <polygon fill="#b49d7a" points="141,1143.2 154,1141.5 170,1160 147.5,1147.8"/>
</svg>
<div class="a" style="left:2.3px;top:1159.0px;font-size:31.71px;color:#fff;-webkit-text-stroke:0.6px #5e5c5d;"><span class="t" style="transform:scaleX(0.7845)">GEORGIA</span></div>
<div class="a" style="left:117.8px;top:1159.0px;font-size:31.71px;color:#b49d7a;-webkit-text-stroke:0.6px #5e5c5d;"><span class="t" style="transform:scaleX(0.8708)">MLS</span></div>
<div class="a" style="left:22.4px;top:1189.2px;font-size:9.01px;color:#d0d0d0;font-weight:bold;"><span class="t" style="transform:scaleX(1.2288)">REAL ESTATE SERVICES</span></div>
</body>
</html>
